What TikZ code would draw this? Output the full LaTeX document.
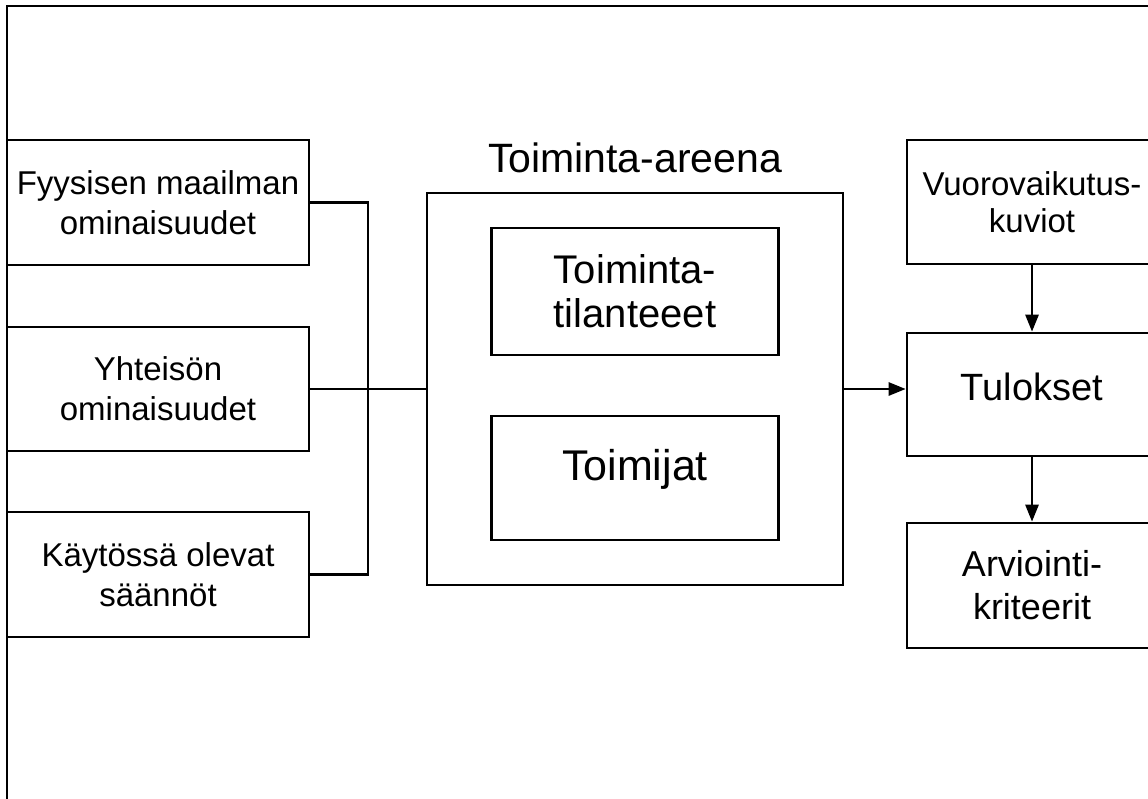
\documentclass[tikz,border=0pt]{standalone}
\usepackage{fontspec}
\setmainfont{Liberation Sans}
\usetikzlibrary{arrows.meta,positioning}

\begin{document}
\begin{tikzpicture}[x=1pt, y=-1pt, line width=2.6pt,
    box/.style={draw, inner sep=0pt, align=center},
    flow/.style={-{Triangle[length=17pt, width=13pt]}}]

  % Parameters definitions
  \def\leftw{302} % Width of the left boxes
  \def\leftx{158} % X position of the left boxes
  \def\arenaw{416} % Width of the arena
  \def\arenah{392} % Height of the arena
  \def\arenax{635} % X position of the arena
  \def\innerw{287} % Width of the inner boxes
  \def\rightw{250} % Width of the right boxes
  \def\rightx{1032} % X position of the right boxes
  \def\busx{368} % X position of the bus line

  \clip (0, 0) rectangle (1148, 798);
  \draw[] (7, 6) rectangle (1200, 850);

  % Left column
  \begin{scope}[every node/.append style={box, minimum width=\leftw, font=\fontsize{33}{40}\selectfont}]
    \node[minimum height=125] (fyysinen) at (\leftx, 202.5) {Fyysisen maailman\\ominaisuudet};
    \node[minimum height=124] (yhteiso) at (\leftx, 389) {Yhteisön\\ominaisuudet};
    \node[minimum height=125] (saannot) at (\leftx, 574.5) {Käytössä olevat\\säännöt};
  \end{scope}
  % Left column END

  % Arena
  \node[box, minimum width=\arenaw, minimum height=\arenah] (arena) at (\arenax, 389) {};
  \node[inner sep=0pt, font=\fontsize{41}{41}\selectfont, above=17.7pt of arena] (arenatitle) {Toiminta-areena};
  \node[box, minimum width=\innerw, minimum height=127, font=\fontsize{40}{44}\selectfont] (tilanteet) at (\arenax, 291.5) {Toiminta-\\tilanteeet};
  \node[box, minimum width=\innerw, minimum height=124, font=\fontsize{43}{43}\selectfont, text height=31pt, text depth=27pt] (toimijat) at (\arenax, 478) {Toimijat};
  % Arena END

  % Right column
  \begin{scope}[every node/.append style={box, minimum width=\rightw}]
    \node[minimum height=124, font=\fontsize{33}{37}\selectfont] (vuoro) at (\rightx, 202) {Vuorovaikutus-\\kuviot};
    \node[minimum height=123, font=\fontsize{38}{38}\selectfont, text height=27pt, text depth=16pt] (tulokset) at (\rightx, 394.5) {Tulokset};
    \node[minimum height=125, font=\fontsize{36}{43}\selectfont] (arviointi) at (\rightx, 585.5) {Arviointi-\\kriteerit};
  \end{scope}
  % Right column END

  \coordinate[] (junction) at (\busx, 389);
  \draw[] (fyysinen.east) -| (junction) |- (saannot.east);
  \draw[] (yhteiso.east) -- (arena.west);

  \draw[flow] (arena.east) -- (arena.east -| tulokset.west);
  \draw[flow] (vuoro.south) -- (tulokset.north);
  \draw[flow] (tulokset.south) -- (arviointi.north);
\end{tikzpicture}
\end{document}
